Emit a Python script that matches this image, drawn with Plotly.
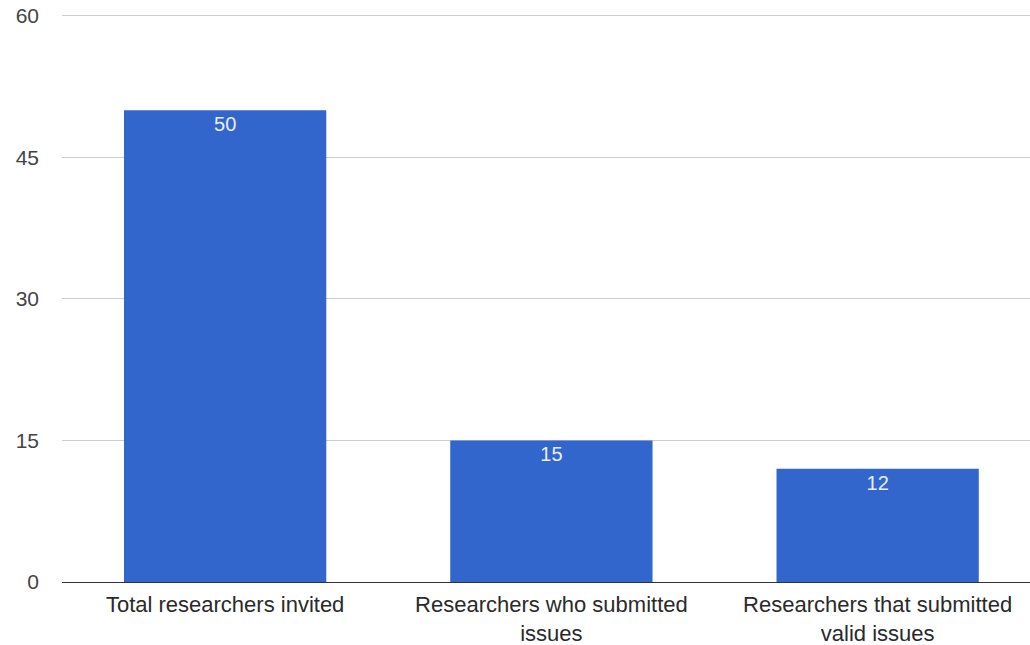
import plotly.graph_objects as go

categories = ["Total researchers invited",
              "Researchers who submitted<br>issues",
              "Researchers that submitted<br>valid issues"]
values = [50, 15, 12]
y_ticks = [0, 15, 30, 45, 60]

FONT = "Liberation Sans, Arial, sans-serif"
BAR = "#3366cc"

fig = go.Figure(go.Bar(
    x=categories,
    y=values,
    text=[str(v) for v in values],
    textposition="inside",
    insidetextanchor="end",
    textfont=dict(family=FONT, size=20, color="#e8eef9"),
    marker=dict(color=BAR, line=dict(width=0)),
    width=0.62,
    hoverinfo="skip",
))

fig.update_layout(
    width=1030, height=645,
    margin=dict(l=62, r=0, t=14, b=63),
    paper_bgcolor="white",
    plot_bgcolor="white",
    showlegend=False,
    font=dict(family=FONT, size=20, color="#222222"),
)

fig.update_xaxes(
    type="category",
    range=[-0.5, 2.467],
    showgrid=False,
    showline=False,
    ticks="",
    tickfont=dict(size=22, color="#2a2a2a"),
    ticklabelstandoff=7,
)

fig.update_yaxes(
    range=[0, 60.2],
    tickvals=y_ticks,
    ticktext=[str(t) for t in y_ticks],
    showgrid=True,
    gridcolor="#cccccc",
    gridwidth=1,
    zeroline=True,
    zerolinecolor="#333333",
    zerolinewidth=1,
    showline=False,
    ticks="",
    tickfont=dict(size=21, color="#444444"),
    ticklabelstandoff=22,
)

fig.write_html("out.html")
